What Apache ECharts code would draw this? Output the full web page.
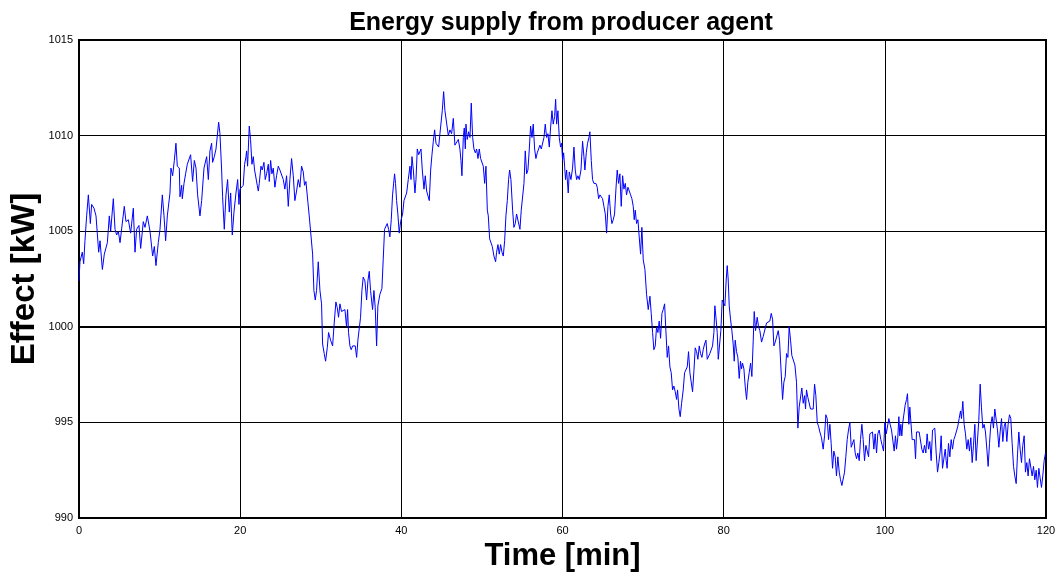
<!DOCTYPE html>
<html>
<head>
<meta charset="utf-8">
<script src="https://cdn.jsdelivr.net/npm/echarts@6/dist/echarts.min.js"></script>
<style>
  html, body { margin: 0; padding: 0; background: #fff; }
  #chart { width: 1059px; height: 579px; }
</style>
</head>
<body>
<div id="chart"></div>
<script>
const chartTitle = 'Energy supply from producer agent';
const xAxisName = 'Time [min]';
const yAxisName = 'Effect [kW]';
const xTicks = [0, 20, 40, 60, 80, 100, 120];
const yTicks = [990, 995, 1000, 1005, 1010, 1015];
const boldGridValue = 1000;

// sample times (minutes)
const timeMin = [
  0.0,0.12,0.41,0.58,0.74,0.95,1.16,1.41,1.57,1.86,
  2.11,2.27,2.44,2.61,2.9,3.14,3.35,3.52,3.76,3.93,
  4.26,4.47,4.67,4.88,5.09,5.29,5.62,5.83,6.12,6.41,
  6.74,6.95,7.15,7.44,7.65,7.98,8.19,8.48,8.81,9.14,
  9.35,9.55,9.84,10.05,10.34,10.55,10.75,10.96,11.29,11.41,
  11.62,11.83,12.03,12.2,12.45,12.53,12.74,12.82,13.03,13.23,
  13.44,13.65,13.85,14.1,14.31,14.52,14.72,15.01,15.22,15.51,
  15.84,16.05,16.25,16.46,16.58,16.79,17.0,17.16,17.33,17.49,
  17.7,17.82,18.03,18.24,18.44,18.65,18.82,19.02,19.23,19.48,
  19.69,19.85,
  19.97,20.18,20.38,20.55,20.72,20.8,20.92,21.13,21.29,21.46,
  21.63,21.79,21.96,22.12,22.25,22.37,22.58,22.74,22.95,23.11,
  23.28,23.49,23.61,23.78,23.94,24.11,24.31,24.52,24.73,24.93,
  25.14,25.35,25.55,25.76,25.97,26.17,26.38,26.59,26.79,27.0,
  27.21,27.41,27.62,27.83,27.99,28.16,28.32,28.41,28.57,28.78,
  28.99,29.15,29.32,29.48,29.69,29.9,30.1,30.23,30.43,30.6,
  30.81,30.97,31.22,31.47,31.67,31.88,32.05,32.21,32.38,32.58,
  32.79,33.0,33.2,33.33,33.45,33.62,33.78,33.95,34.11,34.28,
  34.45,34.61,34.78,34.94,35.11,35.27,35.48,35.69,35.85,36.02,
  36.18,36.43,36.6,36.76,36.93,37.09,37.34,37.59,37.75,37.92,
  38.09,38.25,38.42,38.58,38.75,38.91,39.08,39.16,39.28,39.41,
  39.57,39.74,
  39.91,40.16,40.33,40.49,40.66,40.86,41.07,41.2,41.32,41.49,
  41.69,41.82,41.98,42.15,42.31,42.44,42.6,42.81,42.97,43.14,
  43.35,43.47,43.64,43.8,43.97,44.13,44.3,44.46,44.63,44.79,
  44.96,45.08,45.25,45.41,45.62,45.83,46.03,46.24,46.45,46.65,
  46.86,47.07,47.27,47.4,47.52,47.69,47.81,47.94,48.02,48.18,
  48.35,48.52,48.68,48.85,49.01,49.18,49.34,49.51,49.67,49.84,
  50.0,50.17,50.34,50.5,50.67,50.79,50.96,51.12,51.29,51.49,
  51.7,51.82,51.99,52.15,52.32,52.49,52.65,52.82,52.98,53.15,
  53.31,53.44,53.6,53.81,53.97,54.14,54.3,54.51,54.72,54.88,
  55.05,55.22,55.38,55.55,55.71,55.88,56.04,56.21,56.37,56.54,
  56.7,56.87,57.03,57.2,57.37,57.53,57.7,57.86,58.03,58.19,
  58.36,58.52,58.69,58.85,59.02,59.15,59.27,59.43,59.6,
  59.76,59.89,60.01,60.14,60.26,60.38,60.51,60.71,60.84,61.05,
  61.25,61.42,61.58,61.75,61.91,62.08,62.29,62.49,62.66,62.78,
  62.95,63.11,63.28,63.4,63.57,63.73,63.9,64.15,64.31,64.48,
  64.64,64.81,64.97,65.14,65.31,65.47,65.64,65.8,65.97,66.13,
  66.3,66.46,66.63,66.79,66.96,67.12,67.29,67.46,67.62,67.79,
  67.95,68.12,68.28,68.45,68.61,68.78,68.9,69.03,69.19,69.36,
  69.52,69.69,69.85,70.02,70.23,70.43,70.64,70.85,71.01,71.18,
  71.34,71.51,71.67,71.84,72.0,72.17,72.34,72.5,72.67,72.83,
  73.0,73.16,73.33,73.49,73.66,73.82,73.99,74.16,74.28,74.45,
  74.61,74.78,74.98,75.15,75.31,75.48,75.64,75.81,75.98,76.14,
  76.31,76.47,76.64,76.8,76.97,77.13,77.3,77.46,77.63,77.8,
  77.96,78.13,78.29,78.46,78.62,78.79,78.91,79.04,79.2,79.33,
  79.45,79.65,79.82,80.03,80.15,80.32,80.44,80.56,80.69,80.85,
  81.02,81.18,81.31,81.43,81.6,81.76,81.93,82.09,82.22,82.34,
  82.51,82.67,82.84,83.0,83.17,83.34,83.5,83.67,83.79,83.96,
  84.16,84.33,84.49,84.7,84.91,85.11,85.32,85.53,85.73,85.9,
  86.07,86.23,86.4,86.56,86.77,86.93,87.1,87.31,87.47,87.64,
  87.8,87.97,88.13,88.3,88.46,88.63,88.84,89.04,89.21,89.37,
  89.54,89.7,89.87,90.04,90.16,90.28,90.45,90.61,90.78,90.94,
  91.11,91.28,91.44,91.61,91.77,91.94,92.14,92.35,92.52,92.68,
  92.85,93.01,93.18,93.34,93.51,93.67,93.84,94.0,94.17,94.34,
  94.5,94.67,94.83,95.0,95.16,95.33,95.49,95.66,95.83,95.99,
  96.16,96.32,96.49,96.65,96.82,96.98,97.15,97.31,97.48,97.65,
  97.81,97.98,98.14,98.31,98.47,98.64,98.8,98.97,99.13,99.3,
  99.5,99.67,99.84,100.0,100.17,100.33,100.5,100.66,100.83,100.99,
  101.16,101.32,101.45,101.61,101.74,101.86,101.99,102.11,102.23,102.36,
  102.52,102.69,102.81,102.98,103.1,103.27,103.39,103.56,103.68,103.81,
  103.93,104.1,104.26,104.43,104.59,104.76,104.92,105.09,105.25,105.42,
  105.58,105.75,105.92,106.04,106.2,106.37,106.54,106.7,106.87,106.99,
  107.16,107.32,107.49,107.61,107.73,107.9,108.07,108.23,108.4,108.56,
  108.73,108.89,109.06,109.22,109.39,109.51,109.68,109.84,110.01,110.17,
  110.34,110.5,110.67,110.84,111.0,111.17,111.33,111.5,111.66,111.83,
  111.99,112.16,112.32,112.49,112.66,112.82,112.99,113.15,113.32,113.48,
  113.65,113.81,113.98,114.15,114.31,114.48,114.64,114.81,114.97,115.14,
  115.3,115.47,115.63,115.8,115.97,116.13,116.3,116.46,116.63,116.79,
  116.96,117.12,117.29,117.45,117.62,117.78,117.95,118.11,118.28,118.45,
  118.61,118.78,118.94,119.11,119.27,119.44,119.6,119.77,119.94
];

// effect values (kW)
const effectKW = [
  1002.4,1003.4,1003.9,1003.3,1004.5,1005.8,1006.9,1005.4,1006.4,1006.2,
  1005.8,1004.9,1003.9,1004.5,1003.0,1003.8,1003.9,1004.4,1005.8,1005.0,
  1006.7,1005.1,1004.8,1005.0,1004.4,1004.4,1006.3,1005.5,1005.6,1004.9,
  1006.2,1003.9,1005.1,1005.3,1004.1,1005.5,1005.2,1005.8,1005.0,1003.7,
  1004.2,1003.2,1004.4,1005.1,1006.9,1005.8,1004.5,1005.8,1007.0,1008.3,
  1007.9,1008.7,1009.6,1008.4,1008.3,1006.8,1007.4,1006.7,1007.5,1008.0,
  1008.5,1008.4,1009.0,1007.6,1008.7,1008.3,1006.9,1005.8,1006.6,1008.3,
  1008.9,1007.7,1009.2,1009.6,1008.6,1008.9,1009.3,1009.2,1010.7,1010.1,
  1008.2,1006.8,1005.1,1006.9,1007.7,1006.0,1007.0,1004.8,1006.0,1007.0,
  1007.7,1006.4,
  1007.2,1007.3,1007.4,1008.5,1008.9,1009.2,1008.4,1010.5,1009.8,1008.5,
  1008.9,1008.2,1008.1,1007.4,1007.1,1007.5,1008.4,1008.2,1008.6,1007.7,
  1008.0,1008.5,1007.6,1008.7,1008.0,1008.3,1007.3,1007.9,1008.4,1008.2,
  1008.2,1007.7,1007.2,1007.9,1006.3,1007.7,1008.8,1007.9,1006.6,1007.1,
  1007.7,1007.3,1008.4,1008.1,1007.4,1007.6,1007.7,1006.5,1005.8,1005.7,
  1003.8,1001.9,1001.4,1001.9,1003.4,1001.9,1001.2,999.1,998.6,998.2,
  998.9,999.7,999.3,999.0,1000.2,1001.3,1001.0,1000.5,1001.2,1000.8,
  1000.9,1000.9,1000.0,1000.9,999.7,999.0,998.8,999.0,998.9,999.0,
  998.4,999.3,999.3,1000.5,1001.9,1002.6,1002.4,1001.4,1002.4,1002.9,
  1001.9,1000.9,1001.9,1001.0,999.0,1001.1,1001.7,1002.0,1003.5,1005.1,
  1005.2,1005.4,1005.1,1004.7,1005.6,1006.9,1006.8,1008.0,1007.5,1006.6,
  1005.9,1004.9,
  1005.5,1005.9,1006.6,1006.5,1007.0,1007.7,1008.4,1007.7,1008.9,1008.2,
  1007.0,1007.7,1009.3,1009.0,1009.1,1009.3,1008.2,1007.2,1007.9,1007.1,
  1007.1,1006.6,1008.2,1009.0,1009.7,1010.3,1009.6,1009.7,1009.4,1010.1,
  1010.1,1011.3,1012.3,1011.3,1011.3,1010.0,1010.3,1010.1,1010.9,1009.5,
  1009.4,1009.8,1009.3,1008.7,1007.9,1009.9,1010.4,1009.3,1010.6,1009.8,
  1010.2,1009.9,1011.7,1009.9,1009.3,1009.1,1009.3,1008.8,1009.3,1008.8,
  1008.8,1008.4,1007.5,1008.4,1006.1,1005.8,1004.6,1004.5,1004.2,1003.7,
  1003.4,1003.9,1004.3,1003.8,1004.3,1003.9,1003.7,1004.5,1005.8,1006.6,
  1007.7,1008.2,1007.7,1006.1,1005.2,1005.4,1005.9,1006.0,1005.1,1006.1,
  1006.2,1007.5,1009.2,1008.0,1008.2,1009.3,1010.5,1009.9,1010.6,1009.3,
  1008.8,1009.1,1009.3,1009.5,1009.3,1009.3,1009.9,1010.6,1009.9,1010.1,
  1009.4,1010.4,1011.3,1010.6,1011.0,1011.9,1010.6,1011.3,1009.9,
  1009.4,1009.6,1008.7,1009.1,1008.4,1007.7,1008.2,1007.0,1008.1,1007.7,
  1008.3,1009.4,1008.2,1007.7,1007.9,1007.7,1008.2,1009.7,1008.9,1008.2,
  1009.1,1009.6,1009.9,1010.2,1008.7,1007.7,1007.5,1007.5,1007.3,1006.7,
  1006.9,1007.0,1006.7,1006.3,1005.9,1004.9,1006.3,1006.9,1005.9,1005.4,
  1005.6,1005.9,1007.2,1008.2,1007.5,1008.0,1006.3,1007.9,1007.2,1007.5,
  1006.9,1007.3,1007.2,1006.9,1006.7,1006.3,1005.6,1006.1,1005.4,1005.6,
  1004.7,1003.8,1005.2,1003.5,1003.0,1001.7,1000.9,1001.6,1000.7,999.7,
  998.8,999.0,1000.0,999.7,1000.3,999.4,1000.7,1000.9,1001.2,999.8,
  998.4,999.0,997.9,997.6,996.7,996.9,996.6,996.2,996.7,995.7,
  995.3,996.0,996.7,997.6,997.7,997.9,998.7,997.6,997.7,996.6,
  997.7,998.9,998.7,998.3,999.0,998.6,998.4,998.8,999.1,999.3,
  998.3,998.4,998.6,998.7,999.0,999.7,1001.1,1000.5,999.7,998.3,
  998.2,999.8,1001.4,1001.5,1001.1,1002.5,1003.2,1002.5,1001.1,1000.4,
  999.8,999.1,998.2,999.3,998.7,998.4,997.3,998.2,997.8,998.1,
  997.8,996.9,996.2,997.1,997.6,998.1,997.4,999.3,1000.8,999.8,
  1000.5,1000.0,999.8,999.2,999.5,999.6,1000.2,1000.3,1000.3,1000.7,
  1000.4,999.0,999.2,999.1,999.8,999.3,997.9,996.2,997.1,997.4,
  998.6,998.4,1000.0,999.3,998.5,998.5,998.0,997.1,994.7,995.8,
  995.7,996.8,996.0,996.4,995.7,996.7,996.3,996.4,995.7,995.8,
  995.7,997.0,996.4,995.0,994.8,994.5,994.2,993.6,994.3,995.4,
  995.2,994.1,994.9,993.9,992.6,993.5,993.2,992.2,993.2,992.4,
  992.0,991.7,991.6,992.4,993.2,994.1,994.6,995.0,993.7,993.6,
  994.1,993.4,993.1,993.4,993.0,994.1,994.9,994.1,993.0,993.8,
  993.9,993.2,994.4,994.4,994.5,993.6,994.4,993.4,994.4,994.6,
  994.1,993.8,993.5,995.0,994.4,994.3,995.2,994.9,994.6,994.5,
  993.5,994.3,993.6,994.2,995.3,994.3,994.9,994.3,995.0,994.9,
  995.9,996.2,996.5,994.9,995.8,995.8,994.1,994.0,994.1,993.1,
  994.5,994.6,994.5,994.5,993.6,993.4,993.8,993.4,994.4,993.6,
  994.0,993.0,994.6,994.7,994.7,993.4,992.4,992.9,993.5,994.3,
  992.6,992.6,993.6,993.0,992.6,993.9,993.2,994.1,993.6,994.1,
  994.3,994.3,994.8,995.2,995.6,995.2,996.1,994.9,994.4,993.6,
  994.1,993.5,994.2,992.9,993.8,994.9,993.0,993.1,995.1,997.0,
  995.8,994.7,994.9,994.5,993.6,992.7,993.9,994.9,995.3,994.7,
  995.7,995.6,994.6,993.7,994.5,995.2,994.0,994.8,995.0,994.0,
  994.9,995.4,995.2,993.9,992.7,992.2,991.8,993.3,994.5,993.6,
  992.9,993.8,994.3,992.4,992.9,992.2,993.1,993.1,992.2,992.7,
  992.0,992.5,991.6,992.6,992.1,991.6,992.2,993.0,993.4
];

const n = Math.min(timeMin.length, effectKW.length);
const seriesData = [];
for (let i = 0; i < n; i++) seriesData.push([timeMin[i], effectKW[i]]);

const FONT = '"Liberation Sans", Arial, Helvetica, sans-serif';
const chart = echarts.init(document.getElementById('chart'), null, { renderer: 'canvas' });
chart.setOption({
  animation: false,
  backgroundColor: '#ffffff',
  title: {
    text: chartTitle,
    left: 556,
    textAlign: 'center',
    top: 6,
    textStyle: { fontFamily: FONT, fontSize: 25, fontWeight: 'bold', color: '#000' }
  },
  grid: {
    left: 79, right: 13, top: 40, bottom: 61,
    outerBoundsMode: 'none',
    containLabel: false,
    show: true, borderColor: '#000', borderWidth: 2, backgroundColor: 'transparent'
  },
  xAxis: {
    type: 'value',
    min: xTicks[0], max: xTicks[xTicks.length - 1], interval: 20,
    name: xAxisName, nameLocation: 'middle', nameGap: 23, nameMoveOverlap: false,
    nameTextStyle: { fontFamily: FONT, fontSize: 31, fontWeight: 'bold', color: '#000' },
    axisLine: { show: true, lineStyle: { color: '#000', width: 2 } },
    axisTick: { show: false },
    axisLabel: { color: '#000', fontFamily: FONT, fontSize: 11, margin: 7, formatter: v => String(v) },
    splitLine: { show: true, lineStyle: { color: '#000', width: 1 } }
  },
  yAxis: {
    type: 'value',
    min: yTicks[0], max: yTicks[yTicks.length - 1], interval: 5,
    name: yAxisName, nameLocation: 'middle', nameGap: 38, nameMoveOverlap: false,
    nameTextStyle: { fontFamily: FONT, fontSize: 33, fontWeight: 'bold', color: '#000' },
    axisLine: { show: true, lineStyle: { color: '#000', width: 2 } },
    axisTick: { show: false },
    axisLabel: { color: '#000', fontFamily: FONT, fontSize: 11, margin: 6, formatter: v => String(v) },
    splitLine: { show: true, lineStyle: { color: '#000', width: 1 } }
  },
  series: [{
    type: 'line',
    data: seriesData,
    showSymbol: false,
    symbol: 'none',
    lineStyle: { color: '#0000ff', width: 1 },
    z: 3,
    markLine: {
      silent: true,
      symbol: ['none', 'none'],
      label: { show: false },
      lineStyle: { color: '#000', width: 2, type: 'solid' },
      z: 1,
      data: [{ yAxis: boldGridValue }]
    }
  }]
});
</script>
</body>
</html>
